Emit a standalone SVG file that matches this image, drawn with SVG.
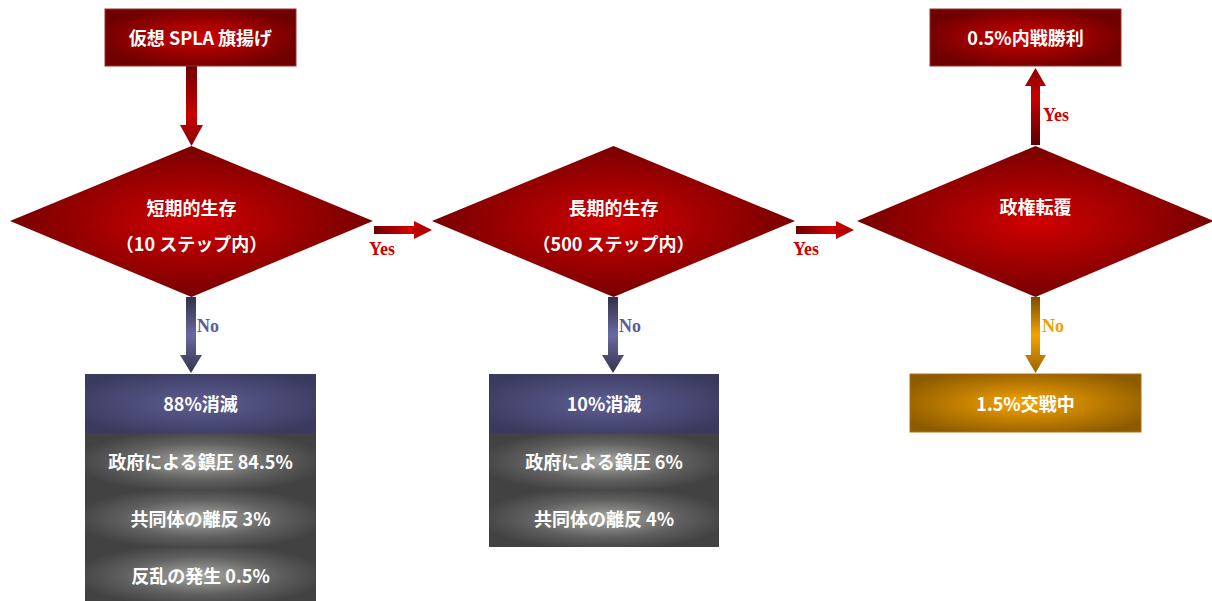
<svg xmlns="http://www.w3.org/2000/svg" width="1212" height="601" viewBox="0 0 1212 601">
<defs>
<radialGradient id="red" cx="50%" cy="50%" r="55%">
<stop offset="0" stop-color="#d00000"/><stop offset="1" stop-color="#6e0000"/>
</radialGradient>
<radialGradient id="blue" cx="50%" cy="50%" r="60%">
<stop offset="0" stop-color="#5e5e94"/><stop offset="1" stop-color="#3a3a5e"/>
</radialGradient>
<radialGradient id="gray" cx="50%" cy="50%" r="55%">
<stop offset="0" stop-color="#a8a8a4"/><stop offset="0.6" stop-color="#606060"/><stop offset="1" stop-color="#424242"/>
</radialGradient>
<radialGradient id="orange" cx="50%" cy="50%" r="60%">
<stop offset="0" stop-color="#f5a300"/><stop offset="1" stop-color="#8c5a00"/>
</radialGradient>
<linearGradient id="redV" x1="0" y1="0" x2="0" y2="1">
<stop offset="0" stop-color="#6e0000"/><stop offset="0.6" stop-color="#c80000"/><stop offset="1" stop-color="#8a0000"/>
</linearGradient>
<linearGradient id="redUp" x1="0" y1="1" x2="0" y2="0">
<stop offset="0" stop-color="#5a0000"/><stop offset="0.6" stop-color="#c80000"/><stop offset="1" stop-color="#8a0000"/>
</linearGradient>
<linearGradient id="redH" x1="0" y1="0" x2="1" y2="0">
<stop offset="0" stop-color="#6e0000"/><stop offset="0.6" stop-color="#d00000"/><stop offset="1" stop-color="#a00000"/>
</linearGradient>
<linearGradient id="blueV" x1="0" y1="0" x2="0" y2="1">
<stop offset="0" stop-color="#30304a"/><stop offset="0.5" stop-color="#6a6aa0"/><stop offset="1" stop-color="#34344e"/>
</linearGradient>
<linearGradient id="orangeV" x1="0" y1="0" x2="0" y2="1">
<stop offset="0" stop-color="#7a4e00"/><stop offset="0.5" stop-color="#f5a300"/><stop offset="1" stop-color="#9a6400"/>
</linearGradient>
<style>
.t{font-family:"Noto Sans CJK JP","Noto Sans",sans-serif;font-weight:bold;font-size:18px;fill:#ffffff;text-anchor:middle;dominant-baseline:central}
.lab{font-family:"Liberation Serif",serif;font-weight:bold;font-size:18px;dominant-baseline:central}
.yes{fill:#cc0000}
.nob{fill:#5c5c98}
.noo{fill:#f0a000}
.edge{stroke:#9a3030;stroke-width:1}
</style>
</defs>

<g id="connectors">
<polygon points="186,66 197,66 197,125 203,125 191.5,146 180,125 186,125" fill="url(#redV)"/>
<polygon points="374,226 414,226 414,221 432,230 414,239 414,234 374,234" fill="url(#redH)"/>
<text class="lab yes" x="369" y="249">Yes</text>
<polygon points="796,226 836,226 836,221 854,230 836,239 836,234 796,234" fill="url(#redH)"/>
<text class="lab yes" x="793" y="249">Yes</text>
<polygon points="186,297 196,297 196,355 202,355 191,373 180,355 186,355" fill="url(#blueV)"/>
<text class="lab nob" x="197" y="326">No</text>
<polygon points="608,297 618,297 618,355 624,355 613,373 602,355 608,355" fill="url(#blueV)"/>
<text class="lab nob" x="619" y="326">No</text>
<polygon points="1031,145 1040,145 1040,86 1046,86 1035.5,68 1025,86 1031,86" fill="url(#redUp)"/>
<text class="lab yes" x="1043" y="115">Yes</text>
<polygon points="1031,297 1040,297 1040,355 1046,355 1035.5,373 1025,355 1031,355" fill="url(#orangeV)"/>
<text class="lab noo" x="1042" y="326">No</text>
</g>

<g id="start">
<rect x="105" y="9" width="191" height="57" fill="url(#red)" class="edge"/>
<text class="t" x="200.5" y="37">仮想 SPLA 旗揚げ</text>
</g>

<g id="d1">
<polygon points="191.5,146 373,221 191.5,297 10,221" fill="url(#red)"/>
<text class="t" x="191.5" y="207">短期的生存</text>
<text class="t" x="191.5" y="243">（10 ステップ内）</text>
</g>

<g id="d2">
<polygon points="613.5,146 795,221 613.5,297 432,221" fill="url(#red)"/>
<text class="t" x="613.5" y="207">長期的生存</text>
<text class="t" x="613.5" y="243">（500 ステップ内）</text>
</g>

<g id="d3">
<polygon points="1035.5,146 1214,221 1035.5,297 857,221" fill="url(#red)"/>
<text class="t" x="1035.5" y="206">政権転覆</text>
</g>

<g id="win">
<rect x="930" y="9" width="191" height="57" fill="url(#red)" class="edge"/>
<text class="t" x="1025.5" y="37">0.5%内戦勝利</text>
</g>

<g id="fight">
<rect x="910" y="374" width="231" height="58" fill="url(#orange)" stroke="#b07010" stroke-width="1"/>
<text class="t" x="1025.5" y="403">1.5%交戦中</text>
</g>

<g id="box1">
<rect x="85" y="374" width="231" height="59" fill="url(#blue)"/>
<rect x="85" y="433" width="231" height="57" fill="url(#gray)"/>
<rect x="85" y="490" width="231" height="57" fill="url(#gray)"/>
<rect x="85" y="547" width="231" height="57" fill="url(#gray)"/>
<text class="t" x="200.5" y="403">88%消滅</text>
<text class="t" x="200.5" y="461">政府による鎮圧 84.5%</text>
<text class="t" x="200.5" y="518">共同体の離反 3%</text>
<text class="t" x="200.5" y="575">反乱の発生 0.5%</text>
</g>

<g id="box2">
<rect x="489" y="374" width="230" height="59" fill="url(#blue)"/>
<rect x="489" y="433" width="230" height="57" fill="url(#gray)"/>
<rect x="489" y="490" width="230" height="57" fill="url(#gray)"/>
<text class="t" x="604" y="403">10%消滅</text>
<text class="t" x="604" y="461">政府による鎮圧 6%</text>
<text class="t" x="604" y="518">共同体の離反 4%</text>
</g>
</svg>
